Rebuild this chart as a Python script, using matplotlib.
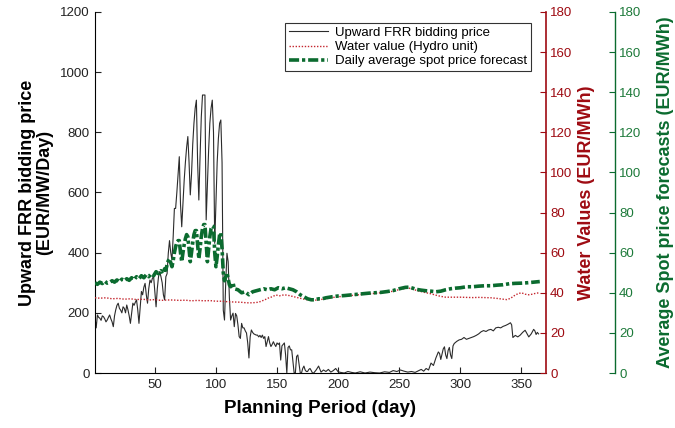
import matplotlib
matplotlib.use('Agg')
import matplotlib.pyplot as plt

plt.rcParams['font.family'] = ['Liberation Sans', 'DejaVu Sans']

RED = '#9e0b12'
RED_LINE = '#c4262e'
GREEN = '#0b6b2f'
GREEN_TXT = '#1d7a3a'

# upward FRR bidding price, EUR/MW/Day
frr_days = list(range(1, 158)) + [
    158, 159, 160, 161, 162, 163, 164, 165, 166, 167, 168, 169, 170, 171, 172, 173,
    174, 175, 176, 177, 178, 179, 180, 182, 184, 186, 188, 190, 192, 194, 196, 198,
    200, 202, 205, 208, 211, 214, 218, 222, 226, 230, 234, 238, 242, 245, 248, 251,
    254, 257, 260, 263, 266, 268, 270, 272, 274, 276, 278, 280, 282, 283, 284, 286,
    287, 288, 289, 290, 291, 292, 293, 294, 295, 297, 299, 301, 303, 305, 307, 309,
    311, 313, 315, 317, 319, 321, 323, 325, 327, 329, 331, 333, 335, 337, 339, 341,
    342, 343, 345, 347, 349, 351, 353, 354, 356, 358, 360, 361, 362, 363, 364]
frr_values = [
    185, 150, 193, 185, 182, 175, 190, 187, 180, 170,
    176, 185, 193, 180, 170, 154, 190, 210, 225, 232,
    215, 209, 200, 220, 215, 200, 226, 210, 190, 165,
    200, 232, 225, 235, 243, 210, 165, 220, 271, 260,
    285, 298, 260, 232, 280, 309, 300, 315, 320, 270,
    220, 280, 320, 337, 320, 300, 260, 243, 320, 330,
    398, 440, 400, 376, 453, 547, 547, 600, 660, 719,
    560, 486, 560, 640, 700, 750, 786, 700, 592, 660,
    760, 830, 880, 907, 700, 575, 720, 850, 924, 924,
    924, 509, 620, 740, 830, 880, 907, 800, 431, 560,
    700, 780, 830, 841, 700, 209, 176, 300, 398, 370,
    250, 176, 190, 199, 154, 198, 190, 160, 121, 115,
    165, 150, 150, 140, 133, 100, 50, 120, 143, 135,
    130, 128, 126, 126, 120, 125, 118, 126, 115, 121,
    88, 105, 121, 100, 88, 95, 104, 95, 88, 100,
    95, 100, 43, 90, 95, 100, 60,
    0, 85, 90, 77, 77, 40, 0, 0, 55, 60, 30, 0, 0, 15, 23, 10,
    5, 5, 12, 15, 8, 0, 0, 10, 23, 3, 10, 5, 12, 3, 8, 15,
    4, 2, 0, 5, 2, 0, 4, 0, 3, 1, 0, 4, 2, 8, 5, 10,
    6, 3, 5, 2, 8, 12, 6, 15, 10, 33, 25, 50, 70, 65, 45, 80,
    87, 60, 48, 75, 85, 60, 48, 90, 98, 105, 110, 112, 118, 112, 115, 118,
    121, 125, 130, 137, 141, 138, 143, 145, 140, 150, 152, 150, 155, 158, 162, 167,
    160, 118, 125, 120, 126, 135, 142, 135, 120, 130, 145, 140, 128, 135, 130]

# water value of the hydro unit, EUR/MWh
wv_days = [1, 5, 10, 15, 20, 25, 30, 35, 40, 45, 50, 55, 60, 65, 70, 75, 80, 85, 90,
           95, 100, 105, 110, 115, 120, 125, 130, 135, 140, 143, 146, 149, 152, 156,
           160, 164, 168, 172, 176, 180, 185, 190, 195, 200, 205, 210, 215, 220, 225,
           230, 235, 240, 245, 250, 255, 258, 261, 264, 268, 272, 276, 280, 284, 288,
           295, 300, 305, 310, 315, 320, 325, 330, 335, 338, 341, 344, 347, 350, 353,
           356, 359, 362, 365]
wv_values = [37.5, 37.3, 37.5, 37.0, 37.2, 36.8, 37.0, 36.6, 36.8, 36.4, 36.6, 36.2,
             36.4, 36.4, 36.2, 36.3, 36.0, 36.2, 36.0, 36.1, 35.8, 35.8, 35.5, 35.4,
             35.3, 35.0, 35.0, 35.3, 36.5, 37.4, 38.0, 38.9, 38.5, 39.0, 38.6, 38.0,
             37.4, 36.8, 36.4, 36.2, 36.6, 37.0, 37.6, 38.0, 38.3, 38.6, 38.9, 39.2,
             39.5, 39.7, 40.0, 40.3, 40.8, 41.6, 42.2, 42.3, 41.8, 41.2, 40.6, 40.0,
             39.5, 38.8, 38.2, 37.8, 37.8, 37.8, 37.7, 37.6, 37.7, 37.6, 37.5, 37.2,
             36.8, 36.6, 37.2, 38.5, 39.5, 40.0, 39.3, 39.0, 39.3, 39.8, 40.0]

# daily average spot price forecast, EUR/MWh
spot_days = [1, 3, 5, 7, 9, 11, 13, 15, 17, 19, 21, 23, 25, 27, 29, 31, 33, 35, 37,
             39, 41, 43, 45, 47, 49, 51, 53, 55] + list(range(56, 115)) + [
             115, 118, 121, 124, 127, 130, 133, 136, 139, 142, 145, 148, 151, 154, 157,
             160, 163, 166, 169, 172, 175, 178, 181, 184, 187, 190, 195, 200, 205, 210,
             215, 220, 225, 230, 235, 240, 245, 250, 255, 258, 261, 264, 268, 272, 276,
             280, 284, 288, 292, 296, 300, 305, 310, 315, 320, 325, 330, 335, 340, 345,
             350, 355, 360, 365]
spot_values = [45.0, 44.2, 45.3, 44.6, 45.8, 44.8, 45.2, 46.0, 45.3, 46.4, 45.4, 46.8,
               46.0, 47.0, 46.2, 47.5, 46.5, 48.0, 47.0, 48.5, 47.5, 49.0, 48.0, 49.5,
               48.5, 50.5, 49.5, 51.0,
               49.5, 50, 52, 51.3, 54, 56, 57, 55, 53, 56,
               60, 63, 65, 66, 66, 60, 55.5, 60, 64, 67,
               69, 68, 62, 55.5, 60, 65, 69, 71, 71, 64,
               57, 62, 68, 72, 74, 74, 65, 55.5, 62, 68,
               72, 73.3, 73, 60, 53, 58, 64, 69, 70, 62,
               50, 46, 48, 50, 47, 44, 43, 44, 45,
               42.0, 41.5, 40.0, 40.5, 39.0, 40.5, 41.0, 41.5, 42.0, 41.5, 42.0, 41.5,
               42.5, 42.0, 42.5, 42.0, 41.5, 40.5, 39.0, 38.0, 37.0, 36.5, 36.5, 37.0,
               37.0, 37.5, 38.0, 38.4, 38.6, 38.9, 39.2, 39.5, 39.8, 40.0, 40.2, 40.6,
               41.1, 42.0, 42.7, 42.8, 42.3, 41.7, 41.3, 41.0, 40.8, 40.5, 40.8, 41.5,
               42.0, 42.3, 42.5, 43.0, 43.0, 43.3, 43.5, 43.5, 43.8, 44.0, 44.5, 44.7,
               44.8, 45.0, 45.3, 45.6]

fig = plt.figure(figsize=(6.75, 4.28), dpi=100)
ax1 = fig.add_axes([0.1407, 0.1285, 0.668, 0.8435])
ax2 = ax1.twinx()
ax3 = ax1.twinx()
ax3.spines['right'].set_position(('axes', 1.153))

l1, = ax1.plot(frr_days, frr_values, color='#2b2b2b', lw=0.8,
               label='Upward FRR bidding price')
l2, = ax2.plot(wv_days, wv_values, color=RED_LINE, lw=1.0, ls=(0, (1, 1.2)),
               label='Water value (Hydro unit)')
l3, = ax3.plot(spot_days, spot_values, color=GREEN, lw=2.6,
               dashes=(2.8, 0.8, 0.9, 0.8),
               label='Daily average spot price forecast')

ax1.set_xlim(1, 370)
ax1.set_ylim(0, 1200)
ax1.set_xticks(range(50, 351, 50))
ax1.set_yticks(range(0, 1201, 200))
for ax in (ax2, ax3):
    ax.set_ylim(0, 180)
    ax.set_yticks(range(0, 181, 20))

for ax in (ax1, ax2, ax3):
    ax.spines['top'].set_visible(False)
ax1.spines['right'].set_visible(False)
ax2.spines['left'].set_visible(False)
ax3.spines['left'].set_visible(False)
ax3.spines['bottom'].set_visible(False)
ax2.spines['bottom'].set_visible(False)

ax1.tick_params(direction='in', length=4, width=0.8, labelsize=9.5,
                colors='#222222', pad=4)
ax2.spines['right'].set_color(RED)
ax2.spines['right'].set_linewidth(1.2)
ax2.tick_params(axis='y', direction='in', length=4, width=0.8, colors=RED,
                labelsize=9.5, labelcolor=RED, pad=3)
ax3.spines['right'].set_color(GREEN)
ax3.spines['right'].set_linewidth(1.0)
ax3.tick_params(axis='y', direction='in', length=4, width=0.8, colors=GREEN,
                labelsize=9.5, labelcolor=GREEN_TXT, pad=3)

ax1.set_xlabel('Planning Period (day)', fontsize=13.5, fontweight='bold', labelpad=7)
ax1.set_ylabel('Upward FRR bidding price\n(EUR/MW/Day)', fontsize=13,
               fontweight='bold', labelpad=5, linespacing=0.95)
ax2.set_ylabel('Water Values (EUR/MWh)', fontsize=13, fontweight='bold',
               color=RED, labelpad=4)
ax3.set_ylabel('Average Spot price forecasts (EUR/MWh)', fontsize=13,
               fontweight='bold', color=GREEN, labelpad=11)

leg = ax3.legend(handles=[l1, l2, l3], loc='upper right',
                 bbox_to_anchor=(0.967, 0.97), borderaxespad=0, fontsize=9.5,
                 frameon=True, fancybox=False, edgecolor='black',
                 handlelength=3.0, handletextpad=0.5, borderpad=0.3,
                 labelspacing=0.15)
leg.get_frame().set_linewidth(0.8)

fig.savefig('out.png', dpi=100)
